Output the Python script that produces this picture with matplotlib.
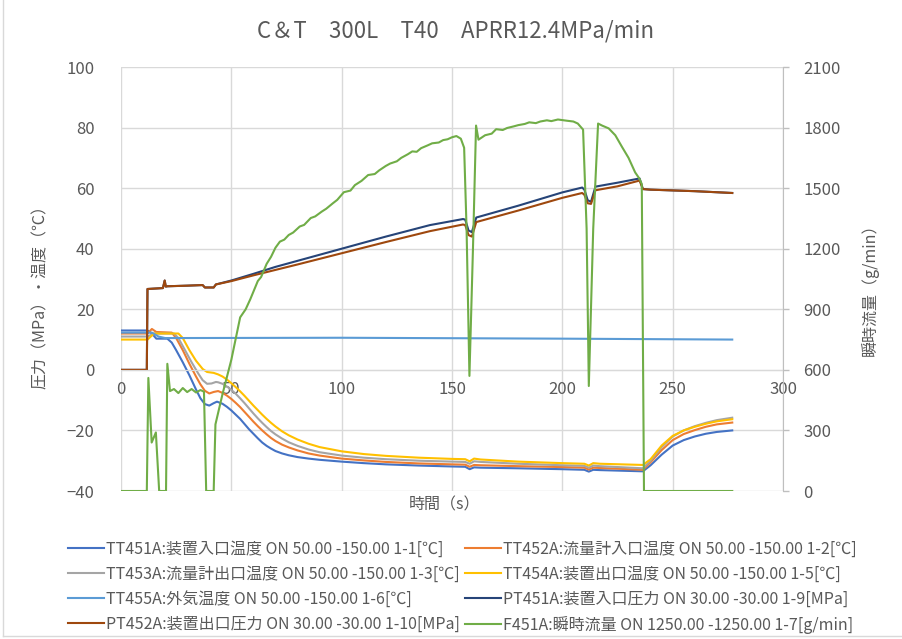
import matplotlib
matplotlib.use('Agg')

import matplotlib.pyplot as plt
from matplotlib.lines import Line2D

plt.rcParams['font.family'] = ['Noto Sans CJK JP', 'DejaVu Sans']

TEXT = '#595959'
GRID = '#D9D9D9'

# --- data (time in s) ---
title = 'C＆T　300L　T40　APRR12.4MPa/min'

x_ticks = [0, 50, 100, 150, 200, 250, 300]
y_ticks = [-40, -20, 0, 20, 40, 60, 80, 100]
y2_ticks = [0, 300, 600, 900, 1200, 1500, 1800, 2100]

labels = [
    'TT451A:装置入口温度 ON 50.00 -150.00 1-1[℃]',
    'TT452A:流量計入口温度 ON 50.00 -150.00 1-2[℃]',
    'TT453A:流量計出口温度 ON 50.00 -150.00 1-3[℃]',
    'TT454A:装置出口温度 ON 50.00 -150.00 1-5[℃]',
    'TT455A:外気温度 ON 50.00 -150.00 1-6[℃]',
    'PT451A:装置入口圧力 ON 30.00 -30.00 1-9[MPa]',
    'PT452A:装置出口圧力 ON 30.00 -30.00 1-10[MPa]',
    'F451A:瞬時流量 ON 1250.00 -1250.00 1-7[g/min]',
]
colors = ['#4472C4', '#ED7D31', '#A5A5A5', '#FFC000',
          '#5B9BD5', '#264478', '#9E480E', '#70AD47']

# temperatures share the same sample times after the plateau
t_tail = [46, 48, 50, 52, 54, 56, 58, 60, 62, 64, 66, 68, 70, 73, 76, 80, 85, 90,
          100, 110, 120, 135, 150, 156, 158, 160, 163, 180, 200, 210, 212, 214,
          217, 236.5, 240, 245, 250, 255, 260, 265, 270, 277]

t_tt451 = [0, 12, 14, 16, 21, 23, 25, 28, 31, 34, 36, 38, 40, 42, 43.5] + t_tail
tt451 = [13, 13, 12, 10.3, 10.3, 9, 6.5, 2.5, -1.8, -6.5, -9.4, -11.3, -11.8, -11,
         -10.5,
         -11.2, -12.2, -13.4, -14.8, -16.2, -17.9, -19.6, -21.1, -22.6, -24, -25.1,
         -26, -26.8, -27.6, -28.2, -28.8, -29.3, -29.7, -30.3, -30.8, -31.2, -31.6,
         -31.9, -32, -32.8, -32.2, -32.3, -32.5, -32.8, -33, -33.6, -33, -33.1,
         -33.5, -31.5, -28, -25, -23.2, -22, -21.1, -20.5, -20]

t_tt452 = [0, 12, 14, 16, 23, 25, 28, 31, 34, 36, 38, 40, 42, 44] + t_tail
tt452 = [12, 12, 13.5, 12.5, 12.3, 10.5, 6.5, 2, -2.2, -4.8, -6.9, -7.8, -7.3, -7,
         -7.6, -8.5, -9.6, -10.9, -12.3, -13.9, -15.5, -17.1, -18.6, -20, -21.3,
         -22.5, -23.5, -24.7, -25.6, -26.6, -27.6, -28.3, -29.3, -29.9, -30.4,
         -30.9, -31.2, -31.3, -32, -31.4, -31.5, -31.8, -32.1, -32.3, -32.9, -32.3,
         -32.4, -33, -30.5, -26.5, -23.2, -21.2, -19.9, -18.8, -18, -17.4]

t_tt453 = [0, 12, 15, 24, 26, 29, 32, 35, 37, 39, 41, 43, 44] + t_tail
tt453 = [11, 11, 12, 12, 10.5, 6.5, 2.5, -1.2, -3.4, -4.6, -4.5, -4, -4.1,
         -4.6, -5.5, -6.6, -7.9, -9.4, -11, -12.7, -14.4, -16, -17.5, -18.9, -20.2,
         -21.3, -22.7, -23.9, -25.1, -26.3, -27.2, -28.3, -29, -29.5, -30, -30.3,
         -30.4, -31, -30.2, -30.4, -31, -31.5, -31.7, -32.3, -31.6, -31.8, -32.5,
         -30, -25.5, -22, -20, -18.6, -17.5, -16.6, -15.8]

t_tt454 = [0, 12, 15, 26, 28, 31, 34, 37, 39, 42, 44] + t_tail
tt454 = [10, 10, 12, 12, 10.5, 6.5, 3, 0.3, -0.7, -1, -1.5,
         -2.2, -3.2, -4.4, -5.7, -7.1, -8.6, -10.2, -11.8, -13.3, -14.8, -16.2,
         -17.5, -18.7, -20.3, -21.6, -23, -24.4, -25.5, -26.9, -27.8, -28.4, -29,
         -29.4, -29.5, -30.2, -29.3, -29.6, -30.3, -30.8, -31, -31.6, -30.8, -31,
         -31.4, -29.5, -25, -21.8, -20, -18.8, -17.8, -17, -16.3]

t_tt455 = [0, 14, 17, 20, 100, 200, 277]
tt455 = [12.3, 12.3, 11, 10.5, 10.6, 10.3, 10.0]

t_pt = [0, 11.7, 12, 19, 19.8, 20.3, 21, 30, 37, 38, 42, 43, 50, 60, 70, 80, 100,
        120, 140, 155, 156, 157.5, 159, 161, 180, 200, 209, 210, 211.5, 213, 215,
        225, 235, 236.5, 240, 260, 277]
pt451 = [0, 0, 26.7, 27, 29.5, 27.5, 27.6, 27.8, 28, 27.2, 27.2, 28.2, 29.5, 31.7,
         34, 36, 40, 44, 47.8, 49.8, 49.6, 46, 45.5, 50.3, 54.2, 58.6, 60.2, 59.5,
         56, 55.5, 60.5, 61.8, 63.2, 59.7, 59.5, 59, 58.4]
pt452 = [0, 0, 26.7, 27, 29.5, 27.5, 27.6, 27.8, 28, 27.2, 27.2, 28.2, 29.3, 31.2,
         33, 34.8, 38.5, 42.2, 45.8, 48, 47.8, 44.5, 44, 48.8, 52.6, 56.8, 58.4,
         57.8, 55, 54.8, 59.3, 60.6, 62.5, 59.7, 59.5, 59, 58.4]

t_f451 = [0, 11.7, 12.4, 13.9, 15.8, 17.3, 20.4, 21, 22.2, 24, 26, 28, 30, 32, 34,
          36, 37.6, 38.6, 42, 42.8, 46, 50, 54, 56.5, 58.6, 62, 63.5, 66, 68, 70,
          72, 74, 76, 78, 81, 83, 86, 88, 91, 93, 96, 98, 101, 104, 106, 109, 112,
          115, 117, 120, 122, 125, 127, 130, 132, 134, 136, 139, 141, 144, 146,
          148, 150, 152, 154, 155.5, 156.6, 157.9, 159.5, 160.9, 162, 165, 168,
          170, 173, 175, 178, 180, 183, 185, 188, 190, 193, 195, 198, 202, 205,
          207, 209.4, 211, 212, 214, 216.2, 218, 221, 224, 227, 230, 233, 235,
          236, 237, 277]
f451 = [0, 0, 560, 240, 290, 0, 0, 630, 495, 505, 485, 510, 490, 505, 488, 500,
        492, 0, 0, 330, 480, 650, 860, 900, 950, 1040, 1060, 1125, 1160, 1205,
        1235, 1245, 1268, 1280, 1310, 1318, 1352, 1360, 1384, 1398, 1425, 1442,
        1480, 1488, 1515, 1536, 1565, 1570, 1588, 1610, 1622, 1633, 1650, 1668,
        1682, 1680, 1698, 1712, 1722, 1726, 1738, 1742, 1752, 1758, 1745, 1700,
        1300, 570, 1200, 1810, 1740, 1762, 1770, 1792, 1788, 1798, 1806, 1812,
        1818, 1826, 1822, 1830, 1836, 1832, 1840, 1834, 1830, 1820, 1790, 1300,
        520, 1300, 1820, 1810, 1796, 1762, 1705, 1650, 1578, 1546, 1520, 0, 0]

# --- figure ---
fig = plt.figure(figsize=(9.02, 6.39), dpi=100)
ax = fig.add_axes([121 / 902, 1 - 491 / 639, 662 / 902, 424 / 639])
ax2 = ax.twinx()

lw = 1.5
series = [(t_tt451, tt451), (t_tt452, tt452), (t_tt453, tt453), (t_tt454, tt454),
          (t_tt455, tt455), (t_pt, pt451), (t_pt, pt452)]
handles = []
for (tx, vy), c, lab in zip(series, colors[:7], labels[:7]):
    h, = ax.plot(tx, vy, color=c, lw=lw, label=lab)
    handles.append(h)
h, = ax2.plot(t_f451, f451, color=colors[7], lw=lw, label=labels[7])
handles.append(h)

ax.set_xlim(0, 300)
ax.set_ylim(-40, 100)
ax2.set_ylim(0, 2100)
ax.set_xticks(x_ticks)
ax.set_yticks(y_ticks)
ax2.set_yticks(y2_ticks)
ax.grid(True, color=GRID, lw=1.0)
ax.set_axisbelow(True)

for s in ['top', 'left', 'right']:
    ax.spines[s].set_visible(False)
ax.spines['bottom'].set_position(('data', 0))
ax.spines['bottom'].set_color(GRID)
for s in ['top', 'left', 'bottom']:
    ax2.spines[s].set_visible(False)
ax2.spines['right'].set_color('#BFBFBF')

ax.tick_params(axis='x', length=0, pad=8, labelsize=12, labelcolor=TEXT)
ax.tick_params(axis='y', length=0, pad=19, labelsize=12, labelcolor=TEXT)
ax2.tick_params(axis='y', length=4.5, width=1, color='#BFBFBF', pad=10,
                labelsize=12, labelcolor=TEXT)

fig.text(456 / 902, 1 - 31 / 639, title, ha='center', va='center',
         fontsize=16, color=TEXT)
fig.text(445 / 902, 1 - 505 / 639, '時間（s）', ha='center', va='center',
         fontsize=11.5, color=TEXT)
fig.text(40 / 902, 1 - 293 / 639, '圧力（MPa）・温度（℃）', ha='center',
         va='center', rotation=90, fontsize=11.5, color=TEXT)
fig.text(870 / 902, 1 - 286 / 639, '瞬時流量（g/min）', ha='center',
         va='center', rotation=90, fontsize=11.5, color=TEXT)

# legend fills column-wise, reorder so it reads row by row
order = [0, 2, 4, 6, 1, 3, 5, 7]
leg = fig.legend([handles[i] for i in order], [labels[i] for i in order],
                 ncol=2, loc='upper left', bbox_to_anchor=(68 / 902, 1 - 541 / 639),
                 frameon=False, fontsize=11.5, handlelength=2.25, handletextpad=0.15,
                 columnspacing=0.3, labelspacing=0.5, borderaxespad=0, borderpad=0)
for txt in leg.get_texts():
    txt.set_color(TEXT)

# outer chart border
fig.add_artist(Line2D([3 / 902, 3 / 902], [3 / 639, 1], color=GRID, lw=1))
fig.add_artist(Line2D([3 / 902, 1], [3 / 639, 3 / 639], color=GRID, lw=1))

fig.savefig('out.png', dpi=100)
